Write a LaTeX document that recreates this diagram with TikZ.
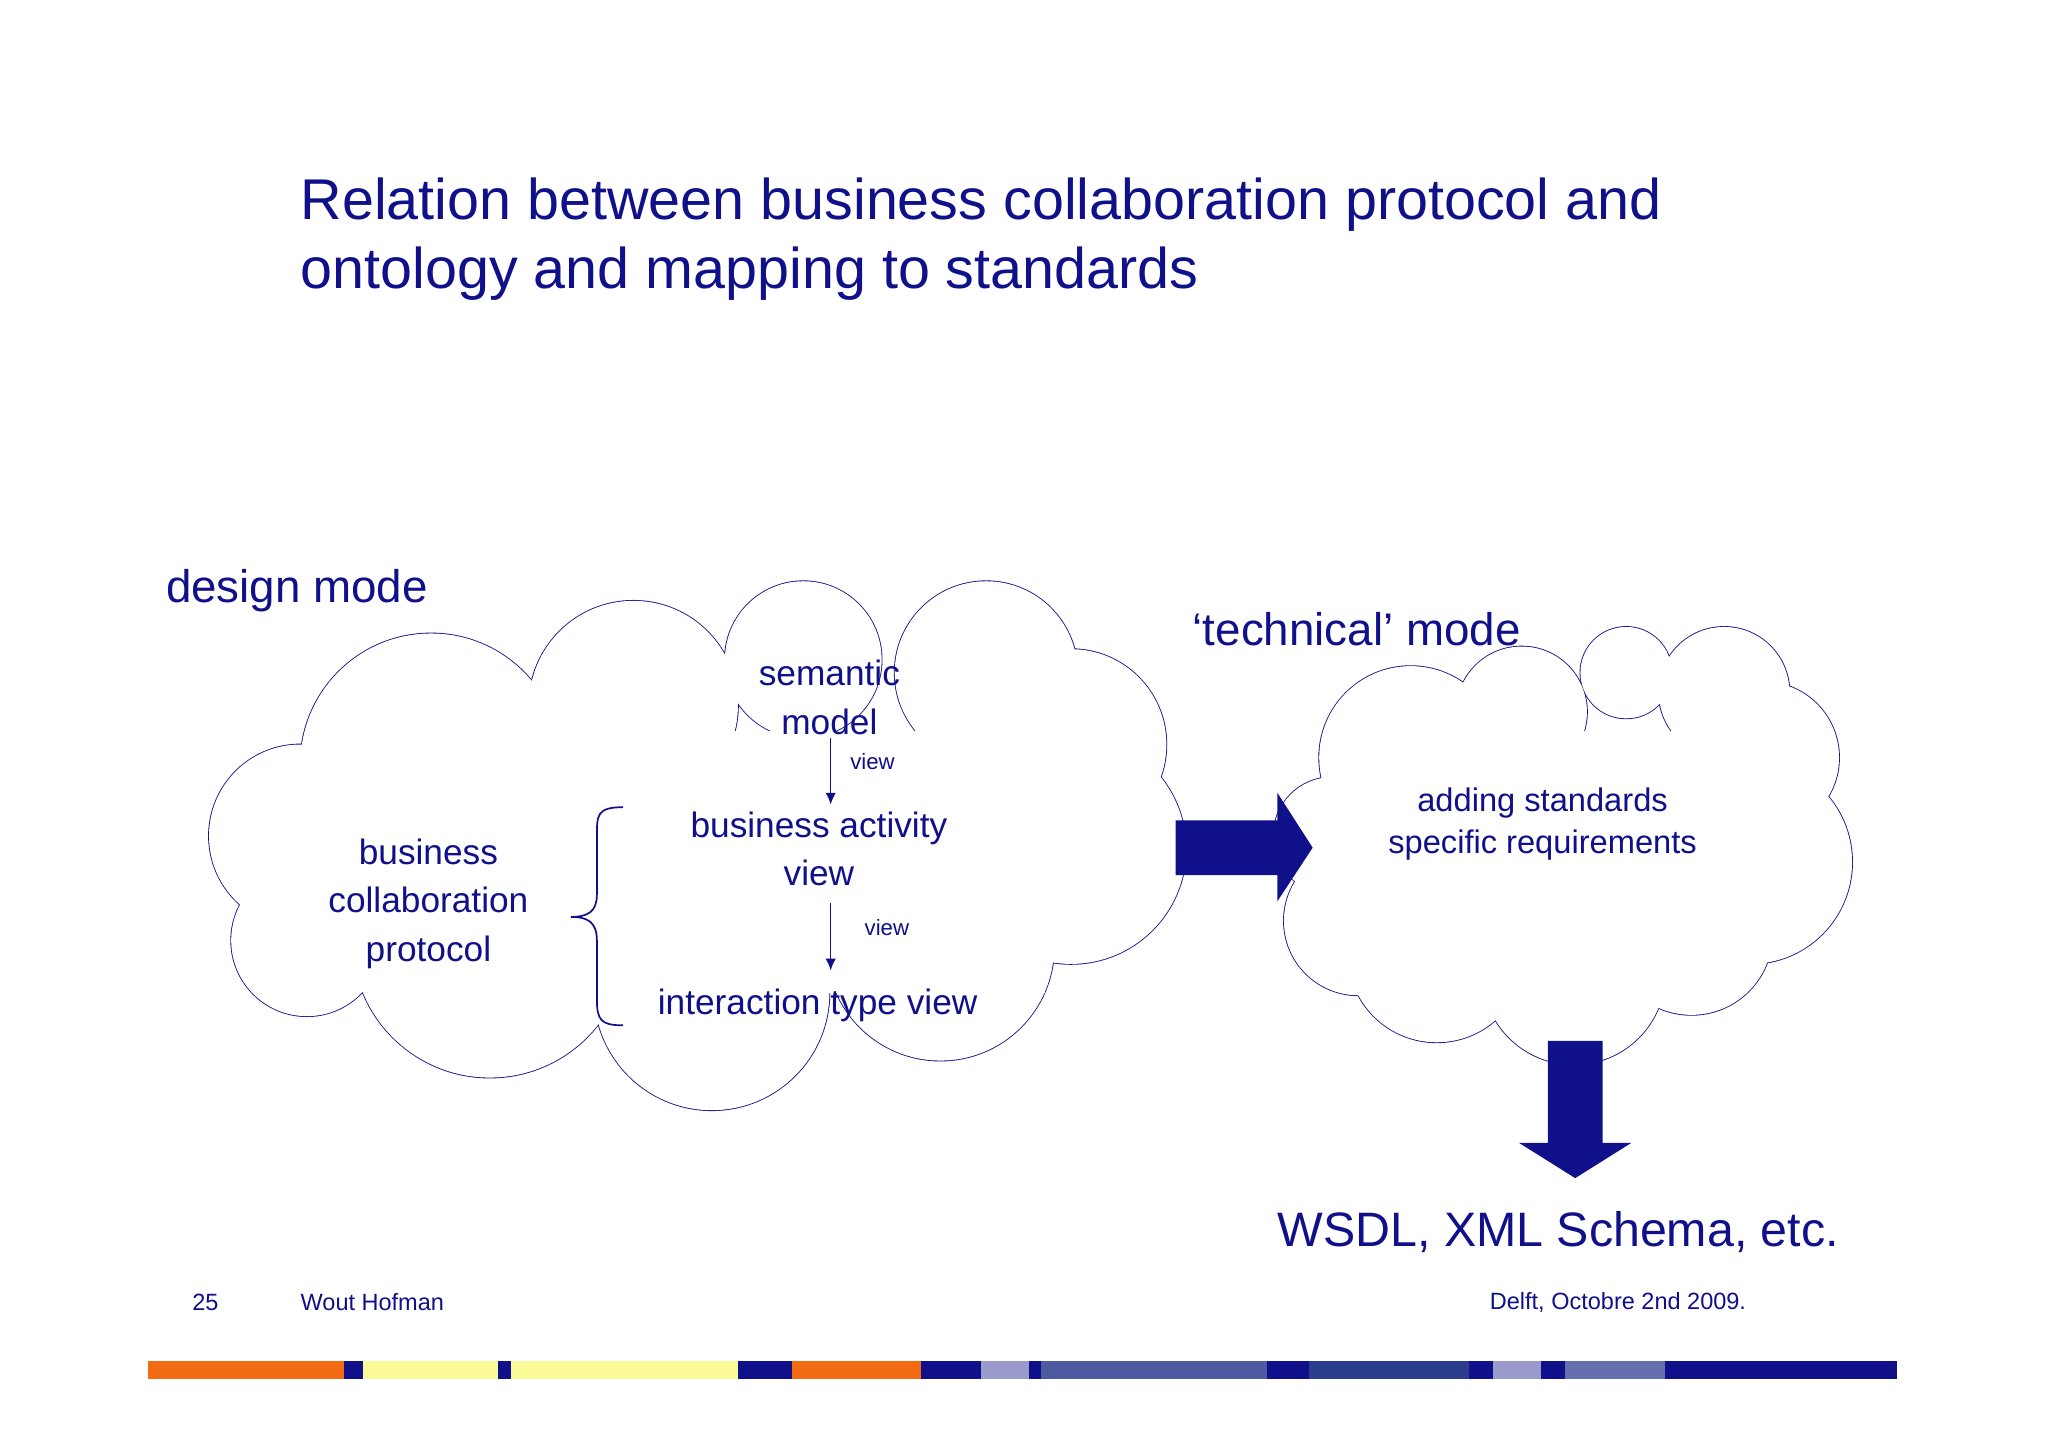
\documentclass[tikz,border=0pt]{standalone}
\usepackage{fontspec}
\usetikzlibrary{arrows.meta}
\setmainfont{Liberation Sans}
\definecolor{nv}{HTML}{10108A}
\definecolor{orng}{HTML}{F26B12}
\definecolor{yel}{HTML}{FAFA96}
\definecolor{lav}{HTML}{9A9ACC}
\definecolor{slt}{HTML}{4E5AA0}
\definecolor{bl2}{HTML}{2A3C8C}
\definecolor{slt2}{HTML}{6670AE}
\newcommand{\fs}[1]{\fontsize{#1}{#1}\selectfont}
\begin{document}
\begin{tikzpicture}[x=1pt,y=-1pt,
  txt/.style={text=nv,align=center,inner sep=0pt},
  cl/.style={draw=nv,line width=1.3pt}]
\useasboundingbox (0,0) rectangle (1568,1108);
\fill[white] (0,0) rectangle (1568,1108);
% left cloud
\foreach \x/\y/\r in {330/585/100,485/540/80,615/505/60,755/515/70,820/570/73,820/650/88,720/725/87,545/760/90,375/720/105,235/720/58,230/640/70}
  \draw[cl] (\x,\y) circle (\r);
\foreach \x/\y/\r in {330/585/100,485/540/80,615/505/60,755/515/70,820/570/73,820/650/88,720/725/87,545/760/90,375/720/105,235/720/58,230/640/70}
  \fill[white] (\x,\y) circle (\r);
\fill[white] (330,560) rectangle (800,760);
% right cloud
\foreach \x/\y/\r in {1080/580/70,1165/545/50,1245/515/35,1320/530/50,1350/580/58,1340/660/78,1295/715/62,1205/745/70,1100/730/68,1040/705/57,1020/640/45}
  \draw[cl] (\x,\y) circle (\r);
\foreach \x/\y/\r in {1080/580/70,1165/545/50,1245/515/35,1320/530/50,1350/580/58,1340/660/78,1295/715/62,1205/745/70,1100/730/68,1040/705/57,1020/640/45}
  \fill[white] (\x,\y) circle (\r);
\fill[white] (1060,560) rectangle (1330,740);
% title
\node[txt,anchor=north west,align=left,font=\fs{44}] (title) at (230,136) {Relation between business collaboration protocol and\\[9pt]ontology and mapping to standards};
\node[txt,anchor=west,font=\fs{35}] (dm) at (127,452) {design mode};
\node[txt,anchor=west,font=\fs{35}] (tm) at (913,482) {‘technical’ mode};
% left cloud text
\node[txt,font=\fs{27}] (sem) at (635,534) {semantic\\[10pt]model};
\node[txt,font=\fs{27}] (bav) at (627,650) {business activity\\[10pt]view};
\node[txt,font=\fs{27}] (itv) at (626,770) {interaction type view};
\node[txt,font=\fs{27}] (bcp) at (328,692) {business\\[10pt]collaboration\\[10pt]protocol};
\draw[nv,line width=1.2pt,-{Latex[length=9pt,width=8pt]}] (636,565) -- (636,616);
\draw[nv,line width=1.2pt,-{Latex[length=9pt,width=8pt]}] (636,691) -- (636,743);
\node[txt,font=\fs{17}] (v1) at (668,583) {view};
\node[txt,font=\fs{17}] (v2) at (679,710) {view};
% brace
\draw[nv,line width=1.3pt] (477,618) .. controls (457,618) and (457,624) .. (457,640) -- (457,685) .. controls (457,698) and (450,702) .. (437,702) .. controls (450,702) and (457,706) .. (457,720) -- (457,765) .. controls (457,781) and (460,785) .. (477,785);
% right cloud text
\node[txt,font=\fs{25}] (ads) at (1181,631) {adding standards\\[7pt]specific requirements};
% block arrows
\fill[nv] (900,628) -- (978,628) -- (978,607) -- (1005,649) -- (978,690) -- (978,670) -- (900,670) -- cycle;
\fill[nv] (1185,797) -- (1227,797) -- (1227,875) -- (1249,875) -- (1206,902) -- (1163,875) -- (1185,875) -- cycle;
\node[txt,font=\fs{37}] (wsdl) at (1193,943) {WSDL, XML Schema, etc.};
% footer
\node[txt,anchor=west,font=\fs{18}] (pg) at (147,997) {25};
\node[txt,anchor=west,font=\fs{18}] (au) at (230,997) {Wout Hofman};
\node[txt,anchor=east,font=\fs{18}] (dt) at (1337,997) {Delft, Octobre 2nd 2009.};
% bar
\foreach \a/\b/\c in {113/263/orng,263/278/nv,278/381/yel,381/391/nv,391/565/yel,565/606/nv,606/705/orng,705/751/nv,751/788/lav,788/797/nv,797/970/slt,970/1002/nv,1002/1125/bl2,1125/1143/nv,1143/1180/lav,1180/1198/nv,1198/1275/slt2,1275/1452/nv}
  \fill[\c] (\a,1042) rectangle (\b,1056);
\end{tikzpicture}
\end{document}
